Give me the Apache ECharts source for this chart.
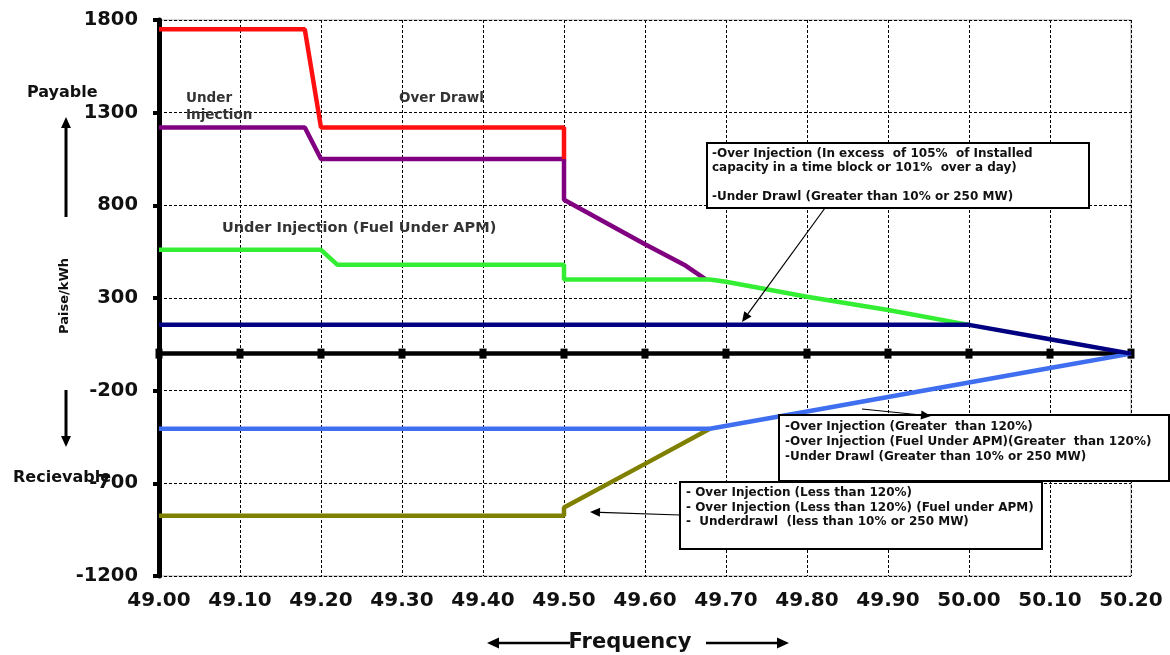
<!DOCTYPE html>
<html>
<head>
<meta charset="utf-8">
<script src="https://cdn.jsdelivr.net/npm/echarts@6/dist/echarts.min.js"></script>
<style>
  html, body { margin: 0; padding: 0; background: #fff; }
  #chart { width: 1170px; height: 655px; }
</style>
</head>
<body>
<div id="chart"></div>
<script>
// ---- Data (frequency in Hz, rate in Paise/kWh) ----
const freqTicks = [49.00, 49.10, 49.20, 49.30, 49.40, 49.50, 49.60, 49.70, 49.80, 49.90, 50.00, 50.10, 50.20];
const rateTicks = [-1200, -700, -200, 300, 800, 1300, 1800];

const overDrawl = [[49.00, 1750], [49.18, 1750], [49.20, 1220], [49.50, 1220], [49.50, 1050]];
const underInjection = [[49.00, 1220], [49.18, 1220], [49.20, 1050], [49.50, 1050], [49.50, 830], [49.60, 590], [49.65, 475], [49.675, 400]];
const underInjectionAPM = [[49.00, 560], [49.20, 560], [49.22, 480], [49.50, 480], [49.50, 400], [49.68, 400], [49.70, 388], [49.80, 307], [49.90, 235], [50.00, 155]];
const overInjectionExcess = [[49.00, 155], [50.00, 155], [50.10, 77], [50.20, 0]];
const overInjectionGT120 = [[49.00, -405], [49.68, -405], [49.80, -312], [49.90, -234], [50.00, -156], [50.10, -78], [50.20, 0]];
const overInjectionLT120 = [[49.00, -875], [49.50, -875], [49.50, -830], [49.60, -595], [49.68, -405]];

const FONT = '"DejaVu Sans", Arial, sans-serif';

function arrow(x1, y1, x2, y2, lw, head, color) {
  color = color || '#000';
  const ang = Math.atan2(y2 - y1, x2 - x1);
  const hl = head, hw = head * 0.45;
  const bx = x2 - hl * Math.cos(ang), by = y2 - hl * Math.sin(ang);
  const px = -Math.sin(ang) * hw, py = Math.cos(ang) * hw;
  return [
    { type: 'line', z: 100, shape: { x1: x1, y1: y1, x2: bx, y2: by }, style: { stroke: color, lineWidth: lw } },
    { type: 'polygon', z: 100, shape: { points: [[x2, y2], [bx + px, by + py], [bx - px, by - py]] }, style: { fill: color } }
  ];
}
function txt(x, y, s, size, opts) {
  opts = opts || {};
  return {
    type: 'text', z: 101, x: x, y: y, rotation: opts.rotation || 0,
    style: {
      text: s, fill: opts.color || '#111', font: 'bold ' + size + 'px ' + FONT,
      textAlign: opts.align || 'left', textVerticalAlign: 'middle'
    }
  };
}
function box(x, y, w, h) {
  return { type: 'rect', z: 99, shape: { x: x, y: y, width: w, height: h }, style: { fill: '#fff', stroke: '#000', lineWidth: 2 } };
}

const graphics = [].concat(
  [txt(27, 93, 'Payable', 16)],
  arrow(66, 217, 66, 117, 3, 11),
  [txt(65, 296, 'Paise/kWh', 13, { align: 'center', rotation: Math.PI / 2 })],
  arrow(66, 390, 66, 447, 3, 11),
  [txt(13, 478, 'Recievable', 16)],
  [txt(186, 98, 'Under', 13.5, { color: '#333' }), txt(186, 115, 'Injection', 13.5, { color: '#333' })],
  [txt(399, 98, 'Over Drawl', 13.5, { color: '#333' })],
  [txt(222, 228, 'Under Injection (Fuel Under APM)', 14.5, { color: '#333' })],
  // Box 1
  [box(707, 143, 382, 65),
   txt(712, 154, '-Over Injection (In excess  of 105%  of Installed', 12),
   txt(712, 168, 'capacity in a time block or 101%  over a day)', 12),
   txt(712, 197, '-Under Drawl (Greater than 10% or 250 MW)', 12)],
  arrow(825, 208, 742, 322, 1.2, 10),
  // Box 3
  [box(680, 482, 362, 67),
   txt(686, 493, '- Over Injection (Less than 120%)', 12),
   txt(686, 508, '- Over Injection (Less than 120%) (Fuel under APM)', 12),
   txt(686, 522, '-  Underdrawl  (less than 10% or 250 MW)', 12)],
  arrow(680, 515, 590, 512, 1.2, 10),
  // Box 2
  [box(779, 415, 390, 66),
   txt(785, 427, '-Over Injection (Greater  than 120%)', 12),
   txt(785, 442, '-Over Injection (Fuel Under APM)(Greater  than 120%)', 12),
   txt(785, 457, '-Under Drawl (Greater than 10% or 250 MW)', 12)],
  arrow(862, 409, 931, 416, 1.2, 10),
  // Frequency
  [txt(630, 643, 'Frequency', 21, { align: 'center' })],
  arrow(570, 643, 487, 643, 2.5, 12),
  arrow(706, 643, 789, 643, 2.5, 12)
);

const chart = echarts.init(document.getElementById('chart'), null, { renderer: 'canvas' });

function lineSeries(name, data, color, z) {
  return {
    name: name, type: 'line', data: data, symbol: 'none', z: z,
    lineStyle: { color: color, width: 4.5 }, animation: false
  };
}

chart.setOption({
  animation: false,
  backgroundColor: '#fff',
  grid: { left: 159, right: 39, top: 20, bottom: 79, show: true, borderColor: '#a8a8a8', borderWidth: 1, backgroundColor: 'transparent' },
  xAxis: {
    type: 'value', min: 49.0, max: 50.2, interval: 0.1,
    axisLine: { show: true, lineStyle: { color: '#a8a8a8', width: 1 } },
    axisTick: { show: false },
    axisLabel: {
      formatter: v => v.toFixed(2), margin: 15,
      fontFamily: FONT, fontWeight: 'bold', fontSize: 20, color: '#111'
    },
    splitLine: { show: true, lineStyle: { color: '#000', type: [3, 2], width: 1 } }
  },
  yAxis: {
    type: 'value', min: rateTicks[0], max: rateTicks[rateTicks.length - 1], interval: 500,
    axisLine: { show: true, onZero: false, lineStyle: { color: '#000', width: 5 } },
    axisTick: { show: true, length: 6, lineStyle: { color: '#000', width: 4 } },
    axisLabel: {
      formatter: v => String(Math.round(v)),
      margin: 21, fontFamily: FONT, fontWeight: 'bold', fontSize: 19.5, color: '#111'
    },
    splitLine: { show: true, lineStyle: { color: '#000', type: [3, 2], width: 1 } }
  },
  series: [
    {
      name: 'Zero', type: 'line', z: 3, data: freqTicks.map(f => [f, 0]),
      symbol: 'rect', symbolSize: [7, 10], showSymbol: true,
      itemStyle: { color: '#000' }, lineStyle: { color: '#000', width: 4.5 }
    },
    lineSeries('Over Injection (<120%)', overInjectionLT120, '#808000', 4),
    lineSeries('Over Injection (>120%)', overInjectionGT120, '#3f6ff0', 5),
    lineSeries('Under Injection', underInjection, '#800080', 4),
    lineSeries('Under Injection (Fuel Under APM)', underInjectionAPM, '#33ee33', 5),
    lineSeries('Over Injection (>105%)', overInjectionExcess, '#000080', 6),
    lineSeries('Over Drawl', overDrawl, '#ff0f0f', 6)
  ],
  graphic: graphics
});
</script>
</body>
</html>
